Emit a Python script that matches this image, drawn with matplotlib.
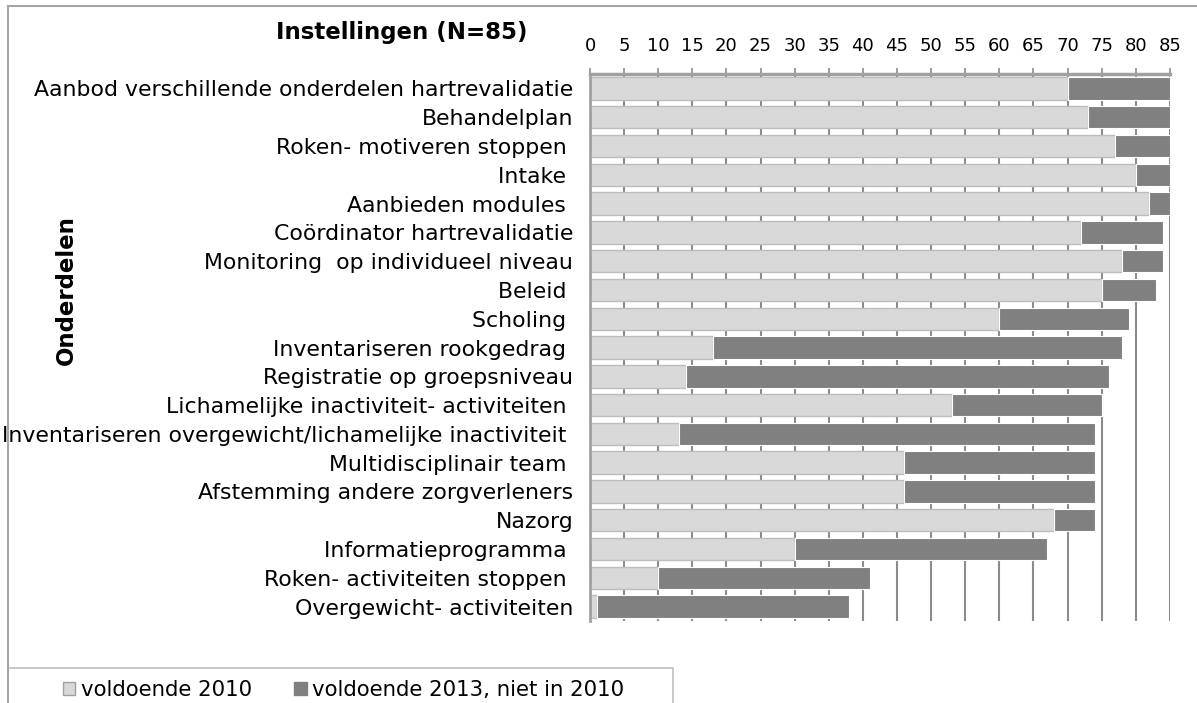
import numpy as np
import matplotlib
matplotlib.use("Agg")
import matplotlib.pyplot as plt
from matplotlib.lines import Line2D
from matplotlib.patches import Patch

# Data (top to bottom as in the chart)
categories = [
    "Aanbod verschillende onderdelen hartrevalidatie",
    "Behandelplan",
    "Roken- motiveren stoppen ",
    "Intake ",
    "Aanbieden modules ",
    "Coördinator hartrevalidatie",
    "Monitoring  op individueel niveau",
    "Beleid ",
    "Scholing ",
    "Inventariseren rookgedrag ",
    "Registratie op groepsniveau",
    "Lichamelijke inactiviteit- activiteiten ",
    "Inventariseren overgewicht/lichamelijke inactiviteit ",
    "Multidisciplinair team ",
    "Afstemming andere zorgverleners",
    "Nazorg",
    "Informatieprogramma ",
    "Roken- activiteiten stoppen ",
    "Overgewicht- activiteiten",
]
voldoende_2010 = [70, 73, 77, 80, 82, 72, 78, 75, 60, 18, 14, 53, 13, 46, 46, 68, 30, 10, 1]
voldoende_2013 = [15, 12, 8, 5, 3, 12, 6, 8, 19, 60, 62, 22, 61, 28, 28, 6, 37, 31, 37]
xticks = list(range(0, 86, 5))

LIGHT = "#d9d9d9"
DARK = "#808080"
GRID = "#8c8c8c"

plt.rcParams["font.family"] = ["DejaVu Sans"]

fig = plt.figure(figsize=(11.97, 7.03), dpi=100)
ax = fig.add_axes([0.4929, 0.1166, 0.4845, 0.7781])

y = np.arange(len(categories))
ax.barh(y, voldoende_2010, height=0.78, color=LIGHT, edgecolor="#bdbdbd", linewidth=1, zorder=2)
ax.barh(y, voldoende_2013, left=voldoende_2010, height=0.78, color=DARK, edgecolor="white",
        linewidth=0.8, zorder=2)

ax.set_xlim(0, 85)
ax.set_ylim(len(categories) - 0.5, -0.5)
ax.set_xticks(xticks)
ax.xaxis.tick_top()
ax.tick_params(axis="x", length=4, width=1.2, color=GRID, pad=10, labelsize=13)
ax.set_yticks(y)
ax.set_yticklabels(categories, fontsize=15.8)
ax.tick_params(axis="y", length=0, pad=12)

ax.set_axisbelow(True)
ax.grid(axis="x", color=GRID, linewidth=1.5)
for s in ["right", "bottom"]:
    ax.spines[s].set_visible(False)
ax.spines["top"].set_color("#a0a0a0")
ax.spines["top"].set_linewidth(2.5)
ax.spines["left"].set_color("#a0a0a0")
ax.spines["left"].set_linewidth(2)

fig.text(402 / 1197, 1 - 32 / 703, "Instellingen (N=85)", ha="center", va="center",
         fontsize=16.5, fontweight="bold")
fig.text(66 / 1197, 1 - 290 / 703, "Onderdelen", ha="center", va="center",
         rotation=90, fontsize=16.5, fontweight="bold")

# outer chart border
fig.add_artist(Line2D([8 / 1197, 8 / 1197], [0, 1 - 6 / 703], transform=fig.transFigure,
                      color="#a6a6a6", linewidth=1.5))
fig.add_artist(Line2D([8 / 1197, 1], [1 - 6 / 703, 1 - 6 / 703], transform=fig.transFigure,
                      color="#a6a6a6", linewidth=1.5))

# legend box
fig.add_artist(Line2D([10 / 1197, 673 / 1197, 673 / 1197], [1 - 668 / 703, 1 - 668 / 703, 0],
                      transform=fig.transFigure, color="#bfbfbf", linewidth=1.2))
handles = [Patch(facecolor=LIGHT, edgecolor="#a0a0a0", label="voldoende 2010"),
           Patch(facecolor=DARK, edgecolor=DARK, label="voldoende 2013, niet in 2010")]
fig.legend(handles=handles, loc="center left", bbox_to_anchor=(63 / 1197, 1 - 690 / 703),
           ncol=2, frameon=False, fontsize=15.3, handlelength=0.58, handleheight=0.58,
           handletextpad=0.25, columnspacing=2.0, borderpad=0, borderaxespad=0)

fig.savefig("out.png", dpi=100)
